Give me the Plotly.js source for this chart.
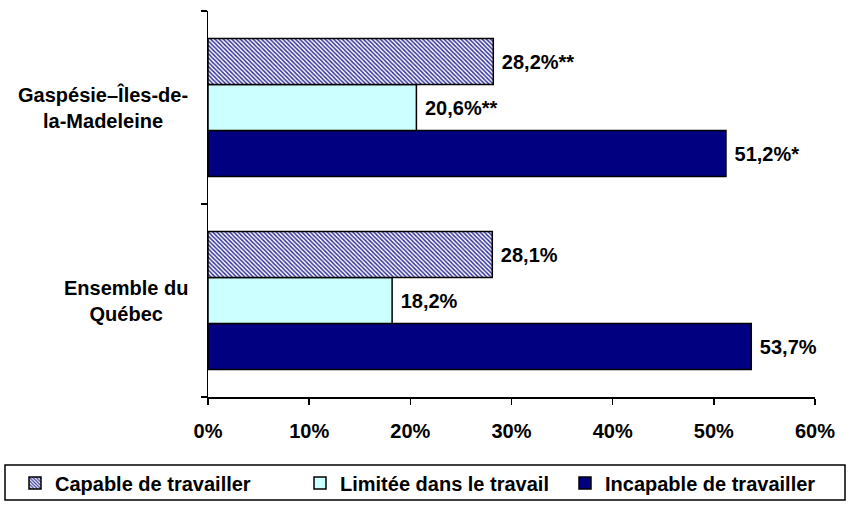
<!DOCTYPE html>
<html>
<head>
<meta charset="utf-8">
<script src="https://cdn.plot.ly/plotly-3.0.1.min.js"></script>
<style>html,body{margin:0;padding:0;background:#fff;}#chart{width:851px;height:505px;}</style>
</head>
<body>
<div id="chart"></div>
<script>
// Categories (bottom to top)
const categories = ['Ensemble du<br>Québec', 'Gaspésie–Îles-de-<br>la-Madeleine'];
// Series values (%)
const capable = [28.1, 28.2];
const limitee = [18.2, 20.6];
const incapable = [53.7, 51.2];
// Precision flags
const capableFlags = ['', '**'];
const limiteeFlags = ['', '**'];
const incapableFlags = ['', '*'];
const seriesNames = ['Capable de travailler', 'Limitée dans le travail', 'Incapable de travailler'];
const xTickVals = [0, 10, 20, 30, 40, 50, 60];
const xTickText = ['0%', '10%', '20%', '30%', '40%', '50%', '60%'];

function labels(vals, flags) {
  return vals.map((v, i) => ' ' + v.toFixed(1).replace('.', ',') + '%' + flags[i]);
}

const FONT = 'Liberation Sans, Arial, sans-serif';
const FS = 20;
const common = {
  type: 'bar', orientation: 'h', y: categories,
  textposition: 'outside', cliponaxis: false,
  textfont: {family: FONT, size: FS, color: '#000', weight: 'bold'},
  hoverinfo: 'skip'
};

const traces = [
  Object.assign({}, common, {
    name: seriesNames[2], x: incapable, text: labels(incapable, incapableFlags), legend: 'legend3',
    marker: {color: '#000080', line: {color: '#000', width: 1.5}}
  }),
  Object.assign({}, common, {
    name: seriesNames[1], x: limitee, text: labels(limitee, limiteeFlags), legend: 'legend2',
    marker: {color: '#CCFFFF', line: {color: '#000', width: 1.5}}
  }),
  Object.assign({}, common, {
    name: seriesNames[0], x: capable, text: labels(capable, capableFlags), legend: 'legend',
    marker: {color: '#ffffff', line: {color: '#000', width: 1.5},
      pattern: {shape: '\\', fgcolor: '#333399', bgcolor: '#ffffff', size: 3, solidity: 0.5}}
  })
];

const annotations = categories.map(c => ({
  text: c, xref: 'paper', yref: 'y', x: -0.03, y: c,
  xanchor: 'right', yanchor: 'middle', align: 'center', showarrow: false,
  font: {family: FONT, size: FS, color: '#000', weight: 'bold'}
}));

function leg(xpx) {
  return {
    orientation: 'h', xref: 'container', yref: 'container',
    x: xpx / 851, xanchor: 'left', y: 1 - 483 / 505, yanchor: 'middle',
    borderwidth: 0, bgcolor: 'rgba(0,0,0,0)',
    font: {family: FONT, size: FS, color: '#000', weight: 'bold'},
    itemclick: false, itemdoubleclick: false
  };
}

const layout = {
  width: 851, height: 505,
  margin: {l: 208, r: 36, t: 11, b: 108, autoexpand: false},
  paper_bgcolor: '#fff', plot_bgcolor: '#fff',
  barmode: 'group', bargap: 0.285, bargroupgap: 0,
  showlegend: true,
  font: {family: FONT, size: FS, color: '#000'},
  xaxis: {
    range: [0, 60], tickvals: xTickVals, ticktext: xTickText,
    showgrid: false, zeroline: false, showline: true, linecolor: '#000', linewidth: 1.5,
    ticks: 'outside', ticklen: 6, tickwidth: 1.5, tickcolor: '#000',
    tickfont: {family: FONT, size: FS, color: '#000', weight: 'bold'},
    ticklabelstandoff: 9
  },
  yaxis: {
    type: 'category', categoryorder: 'array', categoryarray: categories,
    showgrid: false, zeroline: false, showline: true, linecolor: '#000', linewidth: 1.5,
    ticks: 'outside', ticklen: 6, tickwidth: 1.5, tickcolor: '#000', tickson: 'boundaries',
    showticklabels: false
  },
  legend: leg(15),
  legend2: leg(300),
  legend3: leg(565),
  shapes: [{
    type: 'rect', xref: 'paper', yref: 'paper',
    x0: (5 - 208) / 607, x1: (845 - 208) / 607,
    y0: (397 - 465) / 386, y1: (397 - 500) / 386,
    line: {color: '#000', width: 1.5}, fillcolor: 'rgba(0,0,0,0)', layer: 'below'
  }],
  annotations: annotations
};

Plotly.newPlot('chart', traces, layout, {displayModeBar: false, staticPlot: true});
</script>
</body>
</html>
